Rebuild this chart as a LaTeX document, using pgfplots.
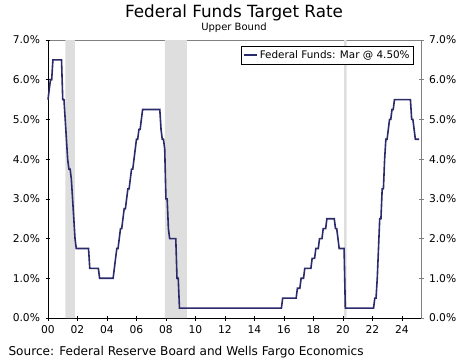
\documentclass[border=0pt]{standalone}
\usepackage{pgfplots}
\pgfplotsset{compat=1.18}
\usepackage{fontspec}
\setmainfont{DejaVu Sans}
\definecolor{navy}{HTML}{2B2A6B}
\definecolor{recgray}{HTML}{DEDEDE}
\definecolor{axgray}{HTML}{808080}
\begin{document}
\begin{tikzpicture}
\useasboundingbox (0,0) rectangle (468pt,360pt);
\node[font=\fontsize{16.8}{19}\selectfont] at (234pt,347pt) {Federal Funds Target Rate};
\node[font=\fontsize{10}{12}\selectfont] at (234pt,332pt) {Upper Bound};
\node[anchor=west,font=\fontsize{12.1}{14}\selectfont] at (5pt,8pt) {Source: Federal Reserve Board and Wells Fargo Economics};
% right/top gray axis
\begin{axis}[
  at={(48pt,42pt)}, anchor=south west,
  scale only axis, width=373pt, height=278pt,
  xmin=2000, xmax=2025.3, ymin=0, ymax=7,
  axis x line*=top, axis y line*=right,
  axis line style={axgray, line width=0.8pt},
  xtick=\empty,
  ytick={0,1,2,3,4,5,6,7},
  yticklabels={0.0\%,1.0\%,2.0\%,3.0\%,4.0\%,5.0\%,6.0\%,7.0\%},
  tick align=center, major tick length=5pt,
  tick style={axgray, line width=0.6pt},
  yticklabel style={font=\fontsize{10.7}{12}\selectfont, xshift=2pt},
]
\end{axis}
\begin{axis}[
  at={(48pt,42pt)}, anchor=south west,
  scale only axis, width=373pt, height=278pt,
  xmin=2000, xmax=2025.3, ymin=0, ymax=7,
  axis x line*=bottom, axis y line*=left,
  axis line style={black, line width=0.8pt},
  xtick={2000,2002,...,2024},
  xticklabels={00,02,04,06,08,10,12,14,16,18,20,22,24},
  ytick={0,1,2,3,4,5,6,7},
  yticklabels={0.0\%,1.0\%,2.0\%,3.0\%,4.0\%,5.0\%,6.0\%,7.0\%},
  tick align=center, major tick length=5pt,
  tick style={black, line width=0.6pt},
  xticklabel style={font=\fontsize{10.7}{12}\selectfont, yshift=-2pt},
  yticklabel style={font=\fontsize{10.7}{12}\selectfont, xshift=-2pt},
  legend style={at={(0.981,0.978)}, anchor=north east, draw=black, line width=0.6pt,
    font=\fontsize{10.4}{12}\selectfont, inner sep=2pt, cells={anchor=west}},
  legend image code/.code={\draw[#1] (0pt,0pt) -- (13pt,0pt);},
  clip=false,
]
\addplot[fill=recgray, draw=none, forget plot] coordinates {(2001.17,0) (2001.17,7) (2001.83,7) (2001.83,0)} \closedcycle;
\addplot[fill=recgray, draw=none, forget plot] coordinates {(2007.92,0) (2007.92,7) (2009.42,7) (2009.42,0)} \closedcycle;
\addplot[fill=recgray, draw=none, forget plot] coordinates {(2020.08,0) (2020.08,7) (2020.25,7) (2020.25,0)} \closedcycle;
\addplot[navy, line width=1.6pt] coordinates {
(2000.000,5.50) (2000.083,5.75) (2000.167,6.00) (2000.250,6.00) (2000.333,6.50) (2000.917,6.50)
(2001.000,5.50) (2001.083,5.50) (2001.167,5.00) (2001.250,4.50) (2001.333,4.00) (2001.417,3.75)
(2001.500,3.75) (2001.583,3.50) (2001.667,3.00) (2001.750,2.50) (2001.833,2.00) (2001.917,1.75)
(2002.750,1.75) (2002.833,1.25)
(2003.417,1.25) (2003.500,1.00)
(2004.417,1.00) (2004.500,1.25) (2004.583,1.50) (2004.667,1.75) (2004.750,1.75) (2004.833,2.00) (2004.917,2.25)
(2005.000,2.25) (2005.083,2.50) (2005.167,2.75) (2005.250,2.75) (2005.333,3.00) (2005.417,3.25)
(2005.500,3.25) (2005.583,3.50) (2005.667,3.75) (2005.750,3.75) (2005.833,4.00) (2005.917,4.25)
(2006.000,4.50) (2006.083,4.50) (2006.167,4.75) (2006.250,4.75) (2006.333,5.00) (2006.417,5.25)
(2007.583,5.25) (2007.667,4.75) (2007.750,4.50) (2007.833,4.50) (2007.917,4.25)
(2008.000,3.00) (2008.083,3.00) (2008.167,2.25) (2008.250,2.00) (2008.667,2.00) (2008.750,1.00)
(2008.833,1.00) (2008.917,0.25)
(2015.833,0.25) (2015.917,0.50)
(2016.833,0.50) (2016.917,0.75)
(2017.083,0.75) (2017.167,1.00) (2017.333,1.00) (2017.417,1.25) (2017.833,1.25) (2017.917,1.50)
(2018.083,1.50) (2018.167,1.75) (2018.333,1.75) (2018.417,2.00) (2018.583,2.00) (2018.667,2.25)
(2018.833,2.25) (2018.917,2.50)
(2019.417,2.50) (2019.500,2.25) (2019.583,2.25) (2019.667,2.00) (2019.750,1.75)
(2020.083,1.75) (2020.167,0.25)
(2022.083,0.25) (2022.167,0.50) (2022.250,0.50) (2022.333,1.00) (2022.417,1.75) (2022.500,2.50)
(2022.583,2.50) (2022.667,3.25) (2022.750,3.25) (2022.833,4.00) (2022.917,4.50)
(2023.000,4.50) (2023.083,4.75) (2023.167,5.00) (2023.250,5.00) (2023.333,5.25) (2023.417,5.25) (2023.500,5.50)
(2024.583,5.50) (2024.667,5.00) (2024.750,5.00) (2024.833,4.75) (2024.917,4.50)
(2025.000,4.50) (2025.083,4.50) (2025.167,4.50)
};
\addlegendentry{Federal Funds: Mar @ 4.50\%}
\end{axis}
\end{tikzpicture}
\end{document}
